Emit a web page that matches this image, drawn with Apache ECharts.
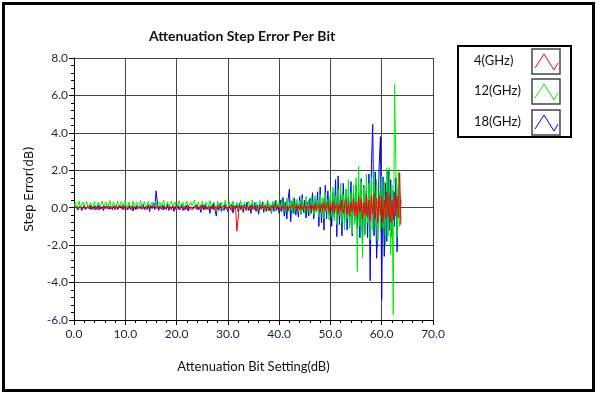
<!DOCTYPE html>
<html>
<head>
<meta charset="utf-8">
<script src="https://cdn.jsdelivr.net/npm/echarts@6/dist/echarts.min.js"></script>
<style>html,body{margin:0;padding:0;background:#fff}#c{width:600px;height:394px}</style>
</head>
<body>
<div id="c"></div>
<script>
// x step of attenuation setting (dB) - 256 states, 0 .. 63.75
const stepDb = 0.25;
const seriesNames = ['4(GHz)', '12(GHz)', '18(GHz)'];
const xTicks = [0, 10, 20, 30, 40, 50, 60, 70];
const yTicks = [-6, -4, -2, 0, 2, 4, 6, 8];

const err18 = [
-0.05,-0.1,0.05,-0.12,-0.08,0.1,-0.15,-0.05,0.08,-0.1,-0.12,0.05,-0.08,0.12,-0.1,-0.05,
0.1,-0.12,-0.06,0.15,-0.1,-0.08,0.05,-0.15,0.1,-0.05,-0.1,0.12,-0.08,0.05,-0.12,0.1,
-0.1,0.15,-0.08,-0.12,0.08,-0.05,0.18,-0.1,-0.15,0.05,-0.08,0.12,-0.1,0.08,-0.18,0.05,
-0.1,0.12,-0.05,-0.15,0.1,-0.08,0.2,-0.12,0.05,-0.1,0.15,-0.2,0.1,-0.05,0.25,-0.1,
0.9,0.3,-0.15,0.1,-0.08,0.15,-0.12,0.05,-0.1,0.18,-0.15,0.08,-0.05,0.12,-0.2,0.1,
-0.1,0.15,-0.12,-0.05,0.2,-0.15,0.08,-0.1,0.12,-0.18,0.05,0.15,-0.1,-0.2,0.1,-0.05,
0.18,-0.12,0.05,-0.25,0.15,-0.1,0.2,-0.08,-0.15,0.12,-0.3,0.1,-0.05,0.22,-0.12,-0.45,
0.15,-0.1,0.25,-0.2,0.08,-0.15,0.18,-0.05,-0.22,0.12,-0.1,0.2,-0.28,0.1,-0.05,0.15,
-0.2,0.25,-0.1,0.12,-0.25,0.18,-0.08,0.3,-0.15,0.1,-0.3,0.2,-0.12,0.28,-0.2,0.15,
-0.35,0.2,-0.1,0.3,-0.25,0.15,-0.2,0.35,-0.15,0.1,-0.3,0.25,-0.2,0.38,-0.12,0.2,
-0.3,0.4,-0.2,0.55,-0.45,0.3,-0.6,0.45,1.0,-0.75,0.35,-0.3,0.5,-0.4,0.25,-0.5,
0.6,-0.35,0.7,-0.25,0.4,-0.55,0.3,-0.45,0.5,-0.3,0.8,-0.6,0.45,-0.2,0.85,-1.0,
1.1,-0.8,0.5,-1.2,1.2,-0.6,0.9,-0.4,0.6,-1.0,0.8,-0.5,1.5,-1.55,1.7,-0.9,
0.7,-1.5,1.3,-0.8,1.0,-1.2,0.6,-0.9,1.4,-1.5,0.9,-0.7,1.2,-1.1,0.8,-1.6,
1.55,-1.9,1.2,-1.4,0.9,-1.6,1.8,-3.9,2.3,4.45,-1.5,1.9,-2.7,-1.2,2.2,3.8,
-4.9,1.65,-2.6,1.3,-1.8,2.0,-1.2,1.5,-1.55,0.9,-1.0,1.6,-2.35,1.2,-0.8,0.4
];

const err12 = [
0.05,0.3,-0.05,0.1,0.35,0.0,-0.08,0.3,0.05,0.1,0.32,-0.05,0.08,0.28,0.0,0.12,
0.35,-0.05,0.1,0.3,0.02,-0.08,0.35,0.05,0.1,0.3,-0.05,0.05,0.38,0.0,0.1,0.3,
-0.05,0.12,0.35,0.02,-0.06,0.32,0.08,0.0,0.4,-0.05,0.1,0.3,0.05,-0.08,0.35,0.1,
0.02,0.3,-0.05,0.12,0.38,0.0,0.08,0.32,-0.06,0.1,0.35,0.05,-0.05,0.3,0.1,0.02,
0.35,-0.05,0.12,0.3,0.0,0.08,0.4,-0.08,0.1,0.32,0.05,-0.05,0.35,0.1,0.0,0.3,
-0.06,0.12,0.38,0.02,0.08,0.3,-0.05,0.1,0.35,0.0,-0.08,0.32,0.1,0.05,0.4,-0.05,
0.1,0.3,0.02,-0.1,0.35,0.08,0.0,0.3,-0.12,0.1,0.38,0.05,-0.05,0.3,0.12,-0.15,
0.35,0.0,0.1,0.3,-0.1,0.08,0.4,0.02,-0.15,0.32,0.1,-0.05,0.35,0.0,0.12,0.3,
-0.1,0.05,0.38,-0.12,0.1,0.3,0.0,-0.15,0.35,0.08,-0.05,0.4,-0.1,0.12,0.3,-0.2,
0.05,0.38,-0.1,0.15,0.3,-0.18,0.1,0.42,-0.05,0.2,-0.25,0.35,0.08,-0.15,0.4,0.0,
0.25,-0.2,0.45,-0.1,0.3,-0.3,0.5,0.05,-0.25,0.4,-0.15,0.55,-0.3,0.2,0.45,-0.2,
0.35,-0.35,0.5,0.1,-0.3,0.6,-0.2,0.4,-0.4,0.55,0.0,-0.35,0.65,-0.25,0.4,-0.5,
0.7,-0.3,0.5,-0.6,0.8,-0.2,0.45,-0.66,0.9,-0.5,1.1,-0.7,0.6,-0.9,1.0,-0.4,
1.3,-0.8,0.7,-1.2,1.0,-0.6,1.5,-1.1,0.8,-1.4,1.2,-0.9,1.6,-3.4,2.2,-1.0,
1.4,-2.7,1.1,-1.5,1.8,-0.8,1.3,-1.7,1.6,-1.2,2.0,-1.0,1.5,-1.8,0.9,-1.3,
1.7,-1.1,1.4,-2.08,2.1,-1.5,2.15,-2.5,1.2,-5.7,6.6,2.46,-1.6,1.9,-1.0,0.6
];

const err4 = [
0.0,-0.05,0.08,-0.1,0.05,0.1,-0.08,0.02,0.12,-0.1,0.05,-0.05,0.1,-0.08,0.05,0.0,
-0.1,0.08,0.05,-0.12,0.1,0.0,-0.08,0.12,-0.05,0.05,0.1,-0.1,0.08,-0.05,0.02,0.1,
-0.08,0.05,-0.12,0.1,0.0,0.08,-0.1,0.12,-0.05,0.05,-0.1,0.1,0.02,-0.08,0.1,-0.05,
0.08,-0.1,0.05,0.12,-0.08,0.0,0.1,-0.12,0.05,-0.05,0.1,-0.08,0.12,0.0,-0.1,0.08,
-0.05,0.1,-0.12,0.05,0.08,-0.1,0.12,-0.05,0.0,0.1,-0.08,0.05,-0.12,0.1,0.02,-0.08,
0.12,-0.05,0.05,-0.1,0.1,0.0,-0.12,0.08,-0.05,0.12,-0.1,0.05,0.1,-0.08,0.0,0.12,
-0.1,0.05,-0.08,0.15,-0.05,0.1,-0.12,0.02,0.12,-0.1,0.08,-0.05,0.15,-0.12,0.05,-0.08,
0.1,-0.15,0.12,0.0,-0.1,0.15,-0.05,0.08,-0.12,0.1,0.05,-0.15,0.12,-0.08,0.1,-1.25,
-0.6,0.15,-0.1,0.12,-0.05,0.08,-0.15,0.1,0.0,-0.12,0.15,-0.08,0.1,-0.1,0.05,0.12,
-0.15,0.1,-0.05,0.18,-0.12,0.05,0.15,-0.1,0.08,-0.18,0.12,0.0,-0.1,0.2,-0.15,0.1,
0.05,-0.12,0.1,-0.05,0.15,-0.1,0.05,-0.15,0.12,0.0,-0.1,0.18,-0.05,0.1,-0.15,0.12,
-0.1,0.18,-0.12,0.05,0.2,-0.15,0.1,-0.05,0.18,-0.2,0.12,-0.1,0.22,-0.15,0.05,0.2,
-0.25,0.18,-0.1,0.28,-0.2,0.1,0.3,-0.25,0.18,-0.15,0.35,-0.3,0.12,0.25,-0.35,0.2,
-0.2,0.4,-0.3,0.15,0.45,-0.35,0.25,-0.45,0.3,-0.2,0.5,-0.4,0.3,-0.55,0.6,-0.25,
0.45,-0.6,0.3,-0.4,0.7,-0.5,0.4,-0.7,0.6,-0.35,0.75,-0.6,0.5,-0.8,0.65,-0.4,
0.6,-0.75,0.4,-0.6,0.85,-0.5,0.7,-0.8,0.4,-0.65,0.8,-0.45,0.6,-0.55,1.87,-0.9
];

const colors = ['#ff0000', '#00ee00', '#0000ff'];

function pairs(arr) { return arr.map((v, i) => [i * stepDb, v]); }

const chart = echarts.init(document.getElementById('c'), null, { renderer: 'canvas' });
const FONT = 'Lato';

function legendItem(idx, y) {
  const bx = 532, bw = 28, bh = 25;
  return [
    { type: 'text', left: 474, top: y + 5, style: { text: seriesNames[idx], font: '13px ' + FONT, fill: '#111' } },
    { type: 'rect', shape: { x: bx, y: y, width: bw, height: bh }, style: { fill: '#fff', stroke: '#444', lineWidth: 1.5 } },
    { type: 'polyline', shape: { points: [[bx + 3, y + 19], [bx + 12, y + 5], [bx + 22, y + 21], [bx + 26, y + 14]] }, style: { stroke: colors[idx], lineWidth: 1, fill: null } }
  ];
}

const option = {
  animation: false,
  backgroundColor: '#fff',
  title: {
    text: 'Attenuation Step Error Per Bit',
    left: 144, top: 24,
    textStyle: { fontFamily: FONT, fontWeight: 'bold', fontSize: 14, color: '#111' }
  },
  grid: { left: 74, right: 167, top: 58, bottom: 74, containLabel: false },
  xAxis: {
    type: 'value', min: xTicks[0], max: xTicks[xTicks.length - 1], interval: 10,
    name: 'Attenuation Bit Setting(dB)', nameLocation: 'middle', nameGap: 40,
    nameTextStyle: { fontFamily: FONT, fontSize: 13, color: '#111' },
    axisLine: { show: true, onZero: false, lineStyle: { color: '#000', width: 1 } },
    axisTick: { show: true, inside: false, length: 5, lineStyle: { color: '#000' } },
    minorTick: { show: true, splitNumber: 5, length: 3, lineStyle: { color: '#000' } },
    axisLabel: { formatter: v => v.toFixed(1), fontFamily: FONT, fontSize: 12, color: '#1a2340', margin: 8 },
    splitLine: { show: true, lineStyle: { color: '#444', width: 1 } }
  },
  yAxis: {
    type: 'value', min: yTicks[0], max: yTicks[yTicks.length - 1], interval: 2,
    name: 'Step Error(dB)', nameLocation: 'middle', nameGap: 33,
    nameTextStyle: { fontFamily: 'DejaVu Sans', fontSize: 12, color: '#111' },
    axisLine: { show: true, onZero: false, lineStyle: { color: '#000', width: 1 } },
    axisTick: { show: true, inside: false, length: 5, lineStyle: { color: '#000' } },
    minorTick: { show: true, splitNumber: 5, length: 3, lineStyle: { color: '#000' } },
    axisLabel: { formatter: v => v.toFixed(1), fontFamily: FONT, fontSize: 12, color: '#1a2340', margin: 6 },
    splitLine: { show: true, lineStyle: { color: '#444', width: 1 } }
  },
  legend: { show: false },
  series: [
    { name: seriesNames[2], type: 'line', data: pairs(err18), showSymbol: false, symbol: 'none', lineStyle: { color: colors[2], width: 1 }, itemStyle: { color: colors[2] }, z: 2 },
    { name: seriesNames[1], type: 'line', data: pairs(err12), showSymbol: false, symbol: 'none', lineStyle: { color: colors[1], width: 1 }, itemStyle: { color: colors[1] }, z: 3 },
    { name: seriesNames[0], type: 'line', data: pairs(err4), showSymbol: false, symbol: 'none', lineStyle: { color: colors[0], width: 1 }, itemStyle: { color: colors[0] }, z: 4 }
  ],
  graphic: [
    { type: 'rect', shape: { x: 3.5, y: 3.5, width: 590, height: 387 }, style: { fill: null, stroke: '#000', lineWidth: 3 }, z: 100 },
    { type: 'rect', shape: { x: 458, y: 46, width: 113, height: 91 }, style: { fill: '#fff', stroke: '#000', lineWidth: 2 } }
  ].concat(legendItem(0, 49), legendItem(1, 79), legendItem(2, 110))
};
chart.setOption(option);
</script>
</body>
</html>
